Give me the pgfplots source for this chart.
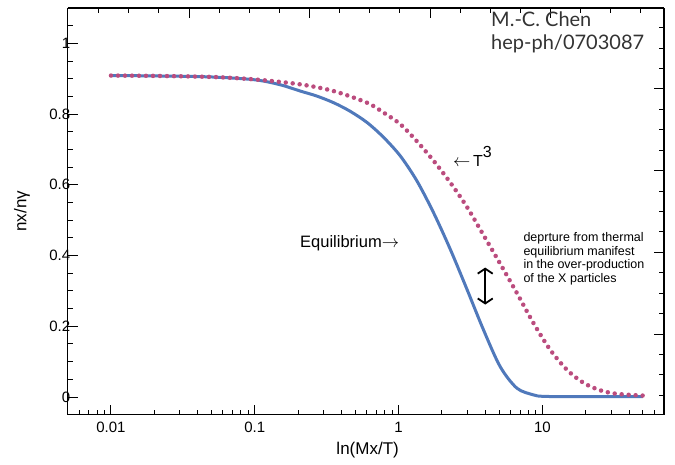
\documentclass[border=0pt]{standalone}
\usepackage{fontspec}
\setmainfont{Liberation Sans}
\newfontfamily\optima{Lato}
\usepackage{pgfplots}
\pgfplotsset{compat=1.18}
\usetikzlibrary{arrows.meta}
\definecolor{eqblue}{RGB}{80,121,187}
\definecolor{tpink}{RGB}{187,76,126}
\begin{document}
\begin{tikzpicture}[x=1pt,y=1pt]
\path[use as bounding box] (0,0) rectangle (675,464);
\begin{axis}[
  at={(67.7pt,49.3pt)}, anchor=south west,
  scale only axis, width=596.3pt, height=406.7pt,
  xmode=log, xmin=0.005, xmax=70, ymin=-0.05, ymax=1.1,
  axis x line*=bottom, axis y line*=left,
  axis line style={line width=1.3pt},
  xtick={0.01,0.1,1,10}, xticklabels={0.01,0.1,1,10},
  minor xtick={0.006,0.007,0.008,0.009,0.02,0.03,0.04,0.05,0.06,0.07,0.08,0.09,0.2,0.3,0.4,0.5,0.6,0.7,0.8,0.9,2,3,4,5,6,7,8,9,20,30,40,50,60},
  ytick={0,0.2,0.4,0.6,0.8,1}, yticklabels={0,0.2,0.4,0.6,0.8,1},
  minor ytick={0.05,0.1,0.15,0.25,0.3,0.35,0.45,0.5,0.55,0.65,0.7,0.75,0.85,0.9,0.95,1.05},
  major tick length=10pt, minor tick length=5pt,
  every tick/.style={black, line width=1pt},
  /pgf/number format/assume math mode=true,
  tick label style={font=\fontsize{15}{18}\selectfont},
  xticklabel style={yshift=-4pt},
  yticklabel style={xshift=6pt},
  xlabel={ln(Mx/T)}, ylabel={nx/nγ},
  xlabel style={at={(axis description cs:0.503,-0.0868)}, anchor=center, font=\fontsize{17}{20}\selectfont},
  ylabel style={at={(axis description cs:-0.0766,0.5)}, anchor=center, rotate=0, font=\fontsize{17}{20}\selectfont},
]
\addplot[eqblue, line width=3pt, smooth] coordinates {
(0.01,0.909) (0.02,0.908) (0.05,0.905) (0.1,0.897) (0.15,0.883) (0.2076,0.865)
(0.27,0.851) (0.354,0.832) (0.46,0.808) (0.604,0.776) (0.787,0.734) (1.03,0.681)
(1.34,0.611) (1.75,0.521) (2.29,0.417) (2.99,0.304) (3.89,0.190) (5.08,0.086)
(6.64,0.025) (8.66,0.006) (10,0.002) (15,0.001) (30,0.001) (50,0.001)
};
\addplot[tpink, line width=4.5pt, line cap=round, dash pattern=on 0pt off 7pt, smooth] coordinates {
(0.01,0.909) (0.02,0.908) (0.05,0.905) (0.1,0.898) (0.2076,0.884) (0.354,0.865)
(0.604,0.832) (0.787,0.804) (1.03,0.771) (1.34,0.723) (1.75,0.668) (2.29,0.606)
(2.99,0.537) (3.89,0.458) (5.08,0.377) (6.64,0.294) (8.66,0.209) (11.3,0.134)
(14.8,0.077) (19.3,0.040) (25.2,0.019) (32.9,0.009) (50,0.004)
};
\draw[line width=1.8pt, {Straight Barb[length=5pt,width=15pt]}-{Straight Barb[length=5pt,width=15pt]}] (axis cs:4,0.366) -- (axis cs:4,0.2615);
\end{axis}
\begin{axis}[
  at={(67.7pt,49.3pt)}, anchor=south west,
  scale only axis, width=596.3pt, height=406.7pt,
  xmin=67.7, xmax=664, ymin=-414.7, ymax=-8,
  axis x line*=top, axis y line*=right,
  axis line style={line width=1.3pt},
  xtick={189,309.5,430,550.5}, xticklabels={},
  minor xtick={98.6,128.75,158.9,219.1,249.25,279.4,339.6,369.75,399.9,460.1,490.25,520.4,580.6,610.75,640.9},
  ytick={-89,-170.67,-252.33,-334}, yticklabels={},
  minor ytick={-27.8,-48.2,-68.6,-109.4,-129.8,-150.3,-191.1,-211.5,-231.9,-272.8,-293.2,-313.6,-354.4,-374.8,-395.3},
  major tick length=10pt, minor tick length=5pt,
  every tick/.style={black, line width=1pt},
]
\end{axis}
\node[anchor=base west, inner sep=0, font=\optima\fontsize{20}{23}\selectfont, text=black!80] at (491,437) {M.-C. Chen};
\node[anchor=base west, inner sep=0, font=\optima\fontsize{20}{23}\selectfont, text=black!80] at (491,414) {hep-ph/0703087};
\node[anchor=base west, inner sep=0, font=\fontsize{16.5}{19}\selectfont] at (300,216) {Equilibrium$\rightarrow$};
\node[anchor=base west, inner sep=0, font=\fontsize{16}{19}\selectfont] at (453,297) {$\leftarrow$\,T\raisebox{9pt}{3}};
\node[anchor=base west, inner sep=0, font=\fontsize{12.5}{14}\selectfont] at (523.3,222.3) {deprture from thermal};
\node[anchor=base west, inner sep=0, font=\fontsize{12.5}{14}\selectfont] at (523.3,208.8) {equilibrium manifest};
\node[anchor=base west, inner sep=0, font=\fontsize{12.5}{14}\selectfont] at (523.3,195.3) {in the over-production};
\node[anchor=base west, inner sep=0, font=\fontsize{12.5}{14}\selectfont] at (523.3,181.8) {of the X particles};
\end{tikzpicture}
\end{document}
